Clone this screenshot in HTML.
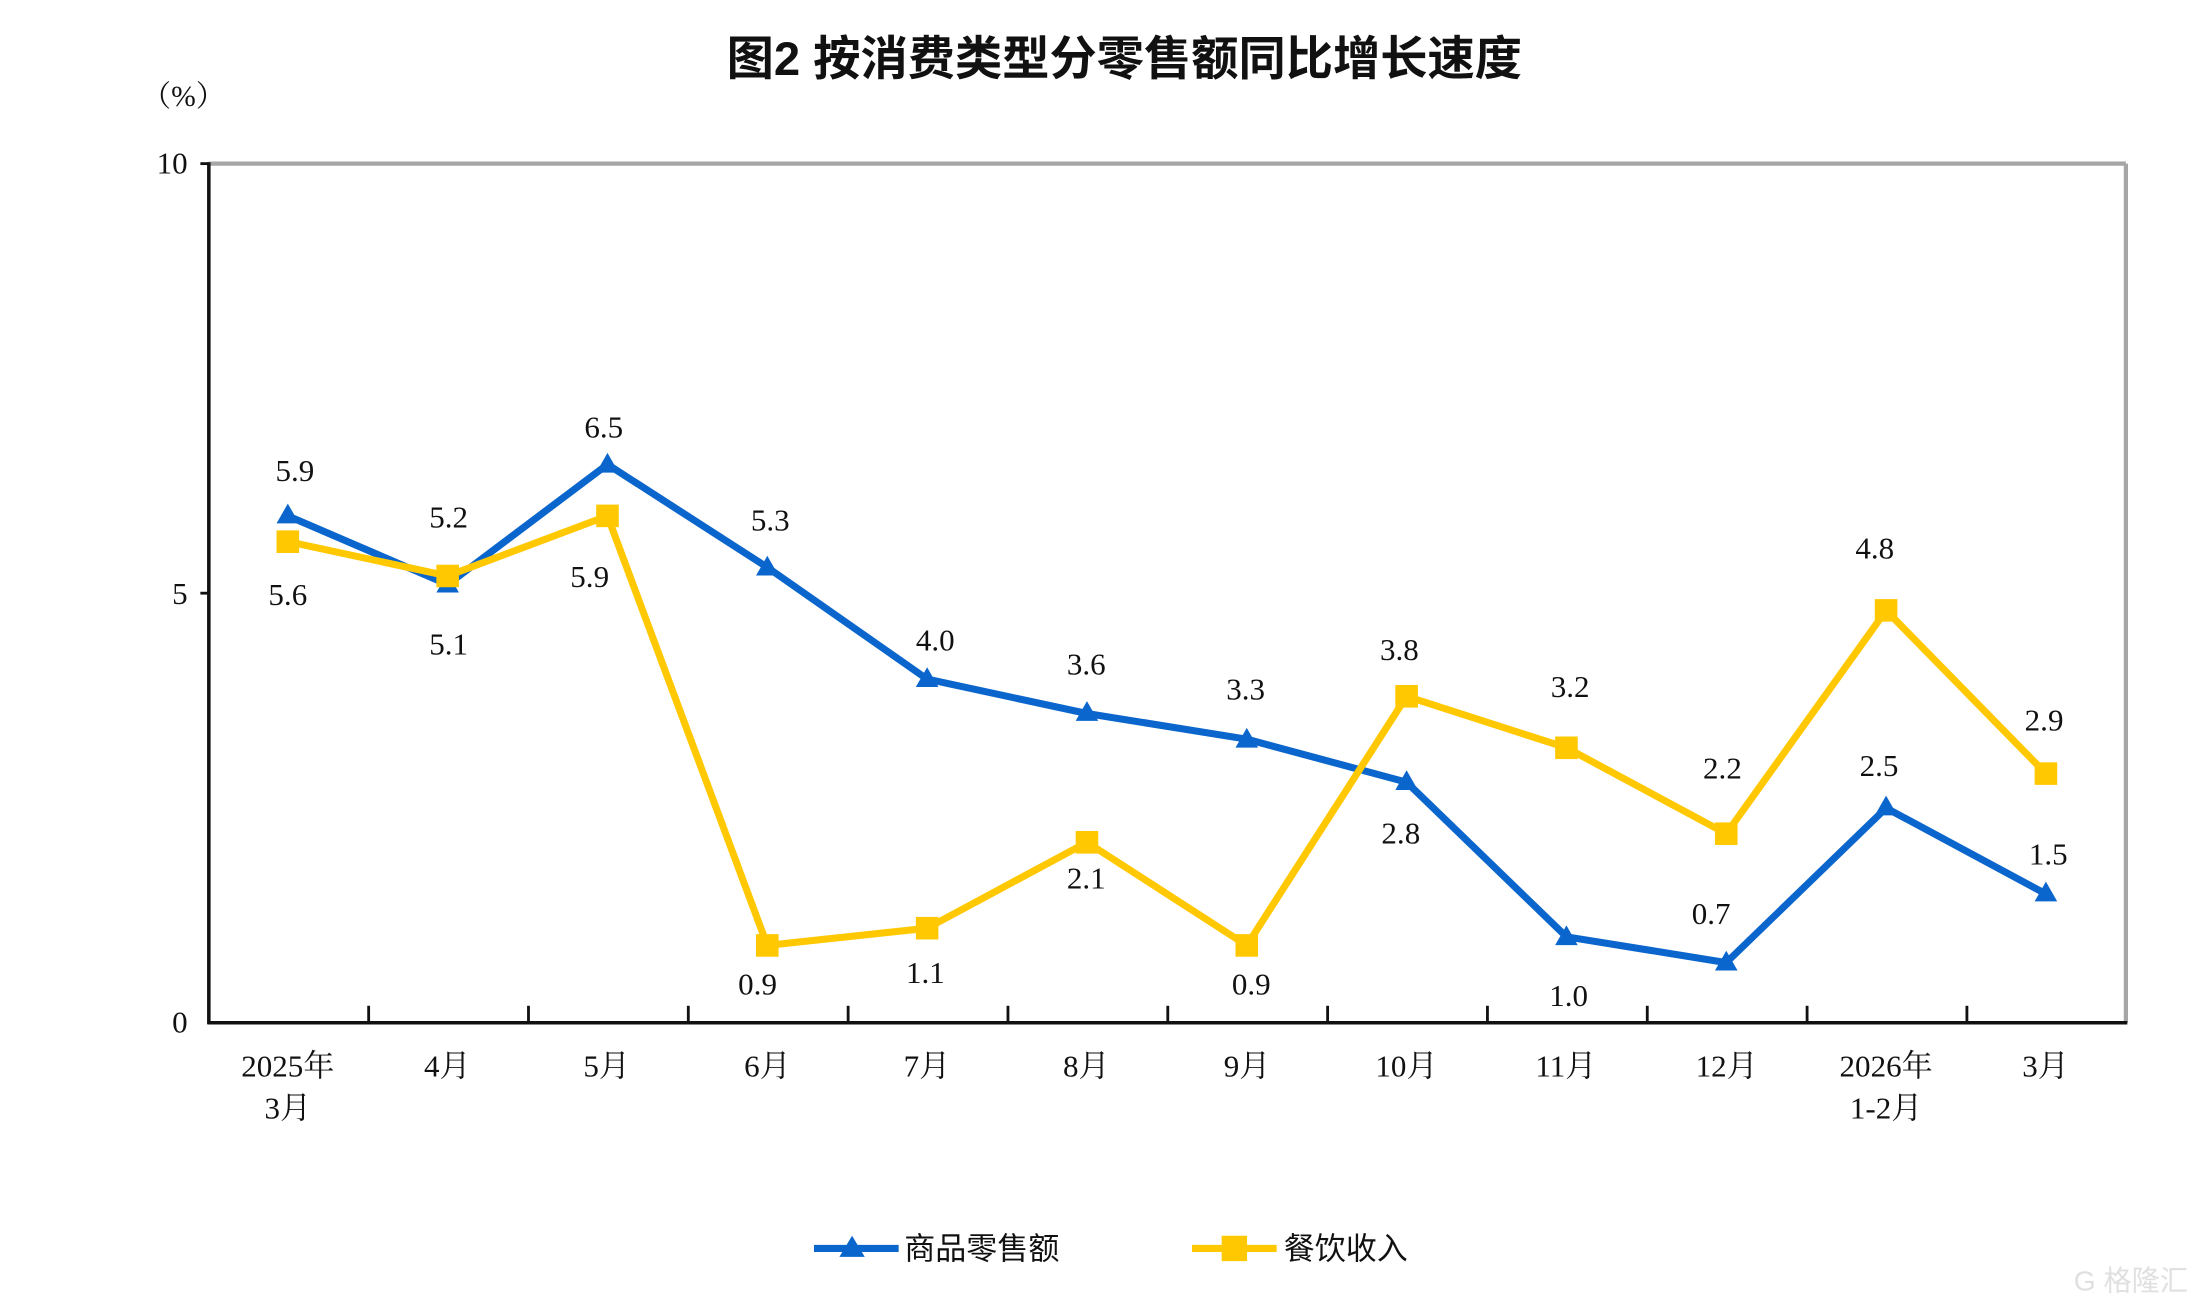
<!DOCTYPE html>
<html><head><meta charset="utf-8"><style>
html,body{margin:0;padding:0;background:#fff;}
svg{display:block;}
text{font-family:"Liberation Serif","Noto Serif CJK SC",serif;fill:#111;}
.cj{font-family:"Liberation Sans","Noto Sans CJK SC",sans-serif;}
.cs{font-family:"Liberation Serif","Noto Serif CJK SC",serif;}
</style></head><body>
<svg width="2212" height="1304" viewBox="0 0 1568 924.4" xmlns="http://www.w3.org/2000/svg">
<rect width="1568" height="924.4" fill="#fff"/>
<text class="cj" x="797" y="53" font-size="33.5" font-weight="bold" text-anchor="middle">图2  按消费类型分零售额同比增长速度</text>
<text x="130" y="75" font-size="21" text-anchor="middle" class="cs">（%）</text>
<line x1="148" y1="116" x2="1507" y2="116" stroke="#a6a6a6" stroke-width="3"/>
<line x1="1507" y1="116" x2="1507" y2="725" stroke="#a6a6a6" stroke-width="3"/>
<line x1="148" y1="115" x2="148" y2="726" stroke="#111" stroke-width="2.5"/>
<line x1="147" y1="725" x2="1508" y2="725" stroke="#111" stroke-width="2.5"/>
<g stroke="#111" stroke-width="2">
<line x1="142" y1="116" x2="148" y2="116"/><line x1="142" y1="420.5" x2="148" y2="420.5"/>
<line x1="261.3" y1="725" x2="261.3" y2="713"/><line x1="374.6" y1="725" x2="374.6" y2="713"/>
<line x1="487.9" y1="725" x2="487.9" y2="713"/><line x1="601.2" y1="725" x2="601.2" y2="713"/>
<line x1="714.5" y1="725" x2="714.5" y2="713"/><line x1="827.8" y1="725" x2="827.8" y2="713"/>
<line x1="941.1" y1="725" x2="941.1" y2="713"/><line x1="1054.4" y1="725" x2="1054.4" y2="713"/>
<line x1="1167.7" y1="725" x2="1167.7" y2="713"/><line x1="1281" y1="725" x2="1281" y2="713"/>
<line x1="1394.3" y1="725" x2="1394.3" y2="713"/>
</g>
<g font-size="22" text-anchor="end">
<text x="133" y="123">10</text><text x="133" y="428">5</text><text x="133" y="732">0</text>
</g>
<g font-size="22" text-anchor="middle" class="cs">
<text x="204" y="763">2025年</text><text x="204" y="793">3月</text>
<text x="317" y="763">4月</text><text x="430" y="763">5月</text><text x="544" y="763">6月</text>
<text x="657" y="763">7月</text><text x="770" y="763">8月</text><text x="884" y="763">9月</text>
<text x="997" y="763">10月</text><text x="1110" y="763">11月</text><text x="1224" y="763">12月</text>
<text x="1337" y="763">2026年</text><text x="1337" y="793">1-2月</text><text x="1450" y="763">3月</text>
</g>
<polyline fill="none" stroke="#0a66cc" stroke-width="5" stroke-linejoin="round" points="204,365.7 317.3,414.4 430.6,329.2 543.9,402.2 657.2,481.4 770.5,505.8 883.8,524 997.1,554.5 1110.4,664.1 1223.7,682.4 1337,572.8 1450.3,633.7"/>
<g fill="#0a66cc">
<path d="M204,357 l8,14 h-16z"/><path d="M317.3,406 l8,14 h-16z"/><path d="M430.6,321 l8,14 h-16z"/><path d="M543.9,394 l8,14 h-16z"/><path d="M657.2,473 l8,14 h-16z"/><path d="M770.5,497 l8,14 h-16z"/><path d="M883.8,516 l8,14 h-16z"/><path d="M997.1,546 l8,14 h-16z"/><path d="M1110.4,656 l8,14 h-16z"/><path d="M1223.7,674 l8,14 h-16z"/><path d="M1337,564 l8,14 h-16z"/><path d="M1450.3,625 l8,14 h-16z"/>
</g>
<polyline fill="none" stroke="#ffc800" stroke-width="5" stroke-linejoin="round" points="204,383.9 317.3,408.3 430.6,365.7 543.9,670.2 657.2,658 770.5,597.1 883.8,670.2 997.1,493.6 1110.4,530.1 1223.7,591 1337,432.7 1450.3,548.4"/>
<g fill="#ffc800">
<rect x="196" y="376" width="16" height="16"/><rect x="309.3" y="400.3" width="16" height="16"/><rect x="422.6" y="357.7" width="16" height="16"/><rect x="535.9" y="662.2" width="16" height="16"/><rect x="649.2" y="650" width="16" height="16"/><rect x="762.5" y="589.1" width="16" height="16"/><rect x="875.8" y="662.2" width="16" height="16"/><rect x="989.1" y="485.6" width="16" height="16"/><rect x="1102.4" y="522.1" width="16" height="16"/><rect x="1215.7" y="583" width="16" height="16"/><rect x="1329" y="424.7" width="16" height="16"/><rect x="1442.3" y="540.4" width="16" height="16"/>
</g>
<g font-size="22" text-anchor="middle">
<text x="209" y="341">5.9</text><text x="204" y="429">5.6</text>
<text x="318" y="374">5.2</text><text x="318" y="464">5.1</text>
<text x="428" y="310">6.5</text><text x="418" y="416">5.9</text>
<text x="546" y="376">5.3</text><text x="537" y="705">0.9</text>
<text x="663" y="461">4.0</text><text x="656" y="697">1.1</text>
<text x="770" y="478">3.6</text><text x="770" y="630">2.1</text>
<text x="883" y="496">3.3</text><text x="887" y="705">0.9</text>
<text x="992" y="468">3.8</text><text x="993" y="598">2.8</text>
<text x="1113" y="494">3.2</text><text x="1112" y="713">1.0</text>
<text x="1221" y="552">2.2</text><text x="1213" y="655">0.7</text>
<text x="1332" y="550">2.5</text><text x="1329" y="396">4.8</text>
<text x="1449" y="518">2.9</text><text x="1452" y="613">1.5</text>
</g>
<line x1="577" y1="885" x2="637" y2="885" stroke="#0a66cc" stroke-width="5"/>
<path d="M604,876 l9,15 h-18z" fill="#0a66cc"/>
<text class="cj" x="641" y="893" font-size="22">商品零售额</text>
<line x1="845" y1="885" x2="905" y2="885" stroke="#ffc800" stroke-width="5"/>
<rect x="866" y="876" width="18" height="18" fill="#ffc800"/>
<text class="cj" x="910" y="893" font-size="22">餐饮收入</text>
<text class="cj" x="1470" y="915" font-size="20" style="fill:#e0e0e0">G 格隆汇</text>
</svg>
</body></html>
